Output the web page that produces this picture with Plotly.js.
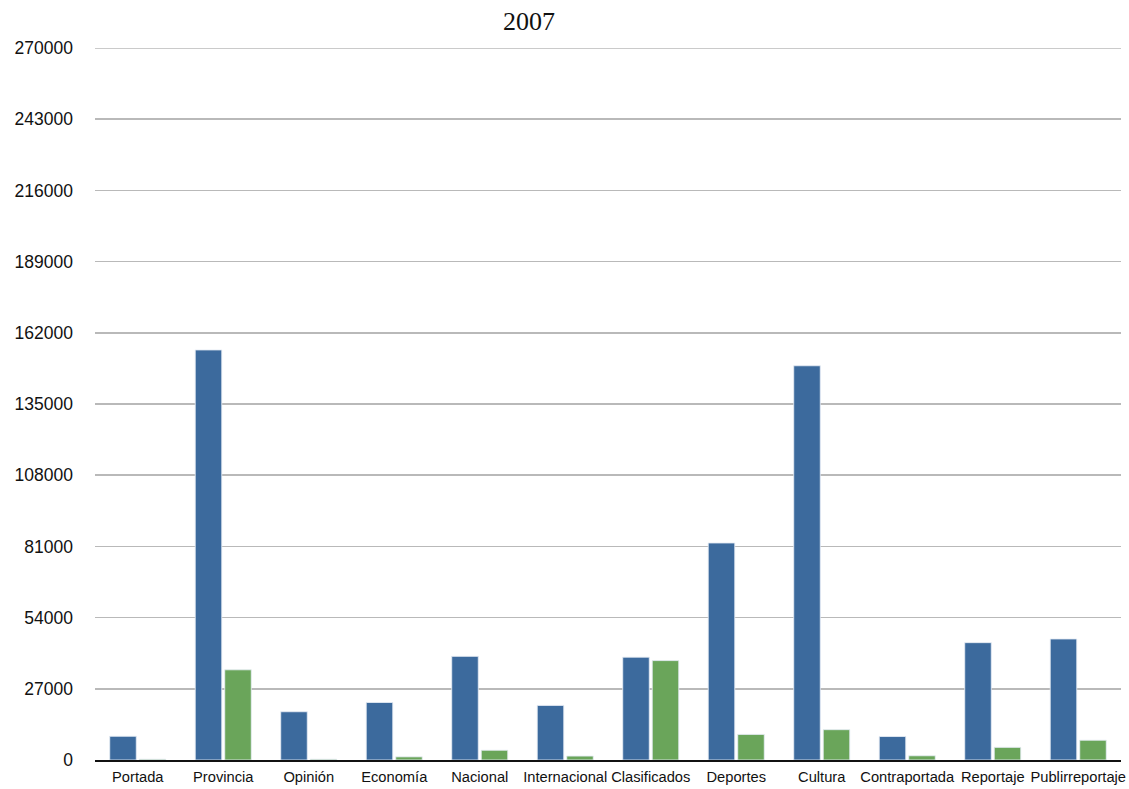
<!DOCTYPE html>
<html>
<head>
<meta charset="utf-8">
<script src="https://cdn.plot.ly/plotly-3.0.1.min.js"></script>
<style>
  html, body { margin: 0; padding: 0; background: #ffffff; }
  #chart { width: 1129px; height: 789px; }
</style>
</head>
<body>
<div id="chart"></div>
<script>
// Sections of the newspaper
const secciones = [
  "Portada", "Provincia", "Opinión", "Economía", "Nacional", "Internacional",
  "Clasificados", "Deportes", "Cultura", "Contraportada", "Reportaje", "Publirreportaje"
];

// First series (blue)
const serieAzul = [9000, 155500, 18300, 21800, 39300, 20700, 39000, 82300, 149500, 8900, 44500, 45900];

// Second series (green)
const serieVerde = [300, 34200, 300, 1200, 3700, 1500, 37700, 9700, 11500, 1600, 4800, 7500];

// Y axis ticks
const ticksY = [0, 27000, 54000, 81000, 108000, 135000, 162000, 189000, 216000, 243000, 270000];

const barLine = { color: "rgba(230,236,245,0.85)", width: 1 };

const traces = [
  {
    type: "bar",
    x: secciones,
    y: serieAzul,
    marker: { color: "#3c6a9d", line: barLine },
    hoverinfo: "x+y"
  },
  {
    type: "bar",
    x: secciones,
    y: serieVerde,
    marker: { color: "#6aa55a", line: barLine },
    hoverinfo: "x+y"
  }
];

const yMax = ticksY[ticksY.length - 1];

const layout = {
  width: 1129,
  height: 789,
  paper_bgcolor: "#ffffff",
  plot_bgcolor: "#ffffff",
  showlegend: false,
  margin: { l: 95, r: 8, t: 48, b: 29, pad: 0 },
  barmode: "group",
  bargap: 0.31,
  bargroupgap: 0.1,
  title: {
    text: "2007",
    font: { family: "Liberation Serif, Times New Roman, serif", size: 26, color: "#111111" },
    xref: "container",
    yref: "container",
    x: 0.4686,
    xanchor: "center",
    y: 0.974,
    yanchor: "middle"
  },
  xaxis: {
    type: "category",
    showgrid: false,
    showline: true,
    linecolor: "#111111",
    linewidth: 2,
    ticks: "",
    tickfont: { family: "Liberation Sans, Arial, sans-serif", size: 14.7, color: "#111111" },
    ticklabelstandoff: 2,
    zeroline: false,
    fixedrange: true
  },
  yaxis: {
    range: [0, yMax],
    tickmode: "array",
    tickvals: ticksY,
    ticktext: ticksY.map(String),
    showgrid: true,
    gridcolor: "#b9b9b9",
    gridwidth: 1.6,
    zeroline: false,
    showline: false,
    ticks: "",
    ticklabelstandoff: 21,
    tickfont: { family: "Liberation Sans, Arial, sans-serif", size: 17.5, color: "#111111" },
    fixedrange: true
  },
  // top gridline sits on the plot edge, so draw it explicitly
  shapes: [
    {
      type: "line",
      xref: "paper",
      yref: "y",
      x0: 0,
      x1: 1,
      y0: yMax,
      y1: yMax,
      line: { color: "#b9b9b9", width: 1.6 },
      layer: "below"
    }
  ]
};

Plotly.newPlot("chart", traces, layout, { displayModeBar: false, staticPlot: true });
</script>
</body>
</html>
